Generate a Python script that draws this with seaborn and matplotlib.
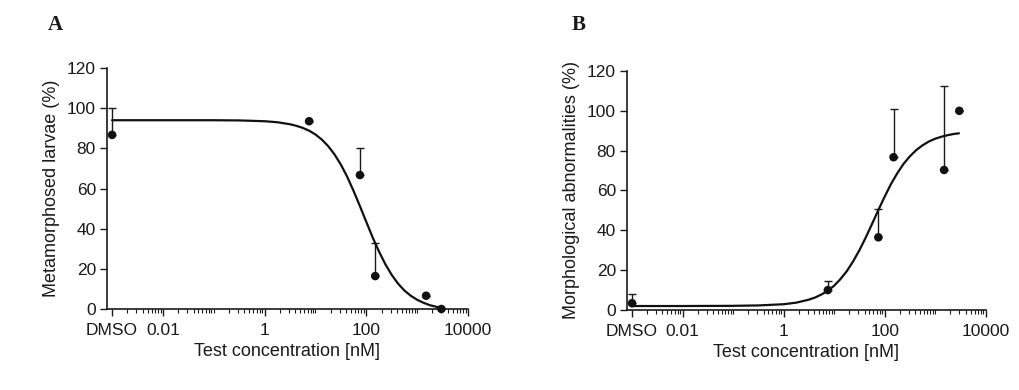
import numpy as np
import pandas as pd
import seaborn as sns
import matplotlib.pyplot as plt
from matplotlib.ticker import FixedLocator, NullFormatter

# concentrazioni testate (DMSO disegnato a 0.001 nM)
conc = [0.001, 7.5, 75, 150, 1500, 3000]
tick_pos = [0.001, 0.01, 1, 100, 10000]
tick_lab = ["DMSO", "0.01", "1", "100", "10000"]

# pannello A: larve metamorfosate
meta_mean = [86.7, 93.5, 66.7, 16.4, 6.6, 0.0]
meta_err = [13.3, 0.0, 13.3, 16.6, 0.0, 0.0]
# curve di fit
curve_x = [0.001, 0.01, 0.1, 0.316, 1, 1.78, 3.16, 4.22, 5.62, 7.5, 10, 13.3,
           17.8, 23.7, 31.6, 42.2, 56.2, 75, 100, 133, 178, 237, 316, 422,
           562, 750, 1000, 1334, 1780, 2371, 2950]
meta_curve = [94.0, 94.0, 94.0, 93.9, 93.5, 93.0, 92.0, 91.2, 90.2, 88.8, 86.9, 84.4,
              81.1, 77.0, 71.9, 65.8, 58.8, 51.2, 43.4, 35.7, 28.6, 22.3, 17.0, 12.6,
              9.2, 6.6, 4.6, 3.1, 1.9, 1.1, 0.7]

# pannello B: anomalie morfologiche
morph_mean = [3.4, 10.0, 36.5, 76.7, 70.3, 100.0]
morph_err = [4.5, 4.6, 14.1, 24.1, 42.3, 0.0]
morph_curve = [2.0, 2.0, 2.1, 2.3, 2.9, 3.7, 5.2, 6.3, 7.8, 9.7, 12.2, 15.5,
               19.5, 24.4, 30.0, 36.4, 43.2, 50.2, 56.9, 63.2, 68.7, 73.4, 77.2, 80.3,
               82.7, 84.6, 86.0, 87.0, 87.8, 88.4, 88.7]

sns.set_style("ticks")
plt.rcParams['font.family'] = ['Liberation Sans', 'DejaVu Sans']
plt.rcParams['text.color'] = '#1a1a1a'
plt.rcParams['axes.labelcolor'] = '#1a1a1a'
plt.rcParams['xtick.color'] = '#1a1a1a'
plt.rcParams['ytick.color'] = '#1a1a1a'

fig = plt.figure(figsize=(10.2, 3.9), dpi=100)
ax1 = fig.add_axes([0.1049, 0.2077, 0.3539, 0.6179])
ax2 = fig.add_axes([0.6147, 0.2051, 0.3517, 0.6129])

pannelli = [
    (ax1, meta_mean, meta_err, meta_curve, "Metamorphosed larvae (%)", "A", 0.054),
    (ax2, morph_mean, morph_err, morph_curve, "Morphological abnormalities (%)", "B", 0.567),
]

for ax, mean, err, curve, ylab, lettera, lx in pannelli:
    punti = pd.DataFrame({"conc": conc, "val": mean})
    fit = pd.DataFrame({"conc": curve_x, "val": curve})

    ax.errorbar(conc, mean, yerr=[np.zeros(len(err)), err], fmt='none',
                ecolor='#1a1a1a', elinewidth=1.0, capsize=3, capthick=1.0, zorder=2)
    sns.lineplot(data=fit, x="conc", y="val", ax=ax, color='#111111',
                 linewidth=1.6, zorder=3)
    sns.scatterplot(data=punti, x="conc", y="val", ax=ax, color='#111111',
                    s=38, edgecolor='none', zorder=4, clip_on=False)

    ax.set_xscale('log')
    ax.set_xlim(10 ** -3.1, 1e4)
    ax.set_ylim(0, 120)
    ax.set_yticks([0, 20, 40, 60, 80, 100, 120])
    ax.xaxis.set_major_locator(FixedLocator(tick_pos))
    ax.set_xticklabels(tick_lab)
    minori = [m * 10.0 ** k for k in range(-3, 4) for m in range(2, 10)] + [0.1, 10, 1000]
    ax.xaxis.set_minor_locator(FixedLocator(minori))
    ax.xaxis.set_minor_formatter(NullFormatter())
    ax.tick_params(axis='both', which='major', labelsize=12.5, length=5, width=1.0, pad=3)
    ax.tick_params(axis='x', which='major', pad=5)
    ax.tick_params(axis='x', which='minor', length=3, width=0.8)
    for s in ['left', 'bottom']:
        ax.spines[s].set_linewidth(1.2)
        ax.spines[s].set_color('#1a1a1a')
    sns.despine(ax=ax)

    ax.set_xlabel("Test concentration [nM]", fontsize=13, labelpad=4)
    ax.set_ylabel(ylab, fontsize=13, labelpad=5)
    fig.text(lx, 0.935, lettera, fontsize=15, fontweight='bold',
             family=['Liberation Serif', 'DejaVu Serif'], va='center', ha='center')

plt.savefig('out.png', dpi=100)
plt.close()
